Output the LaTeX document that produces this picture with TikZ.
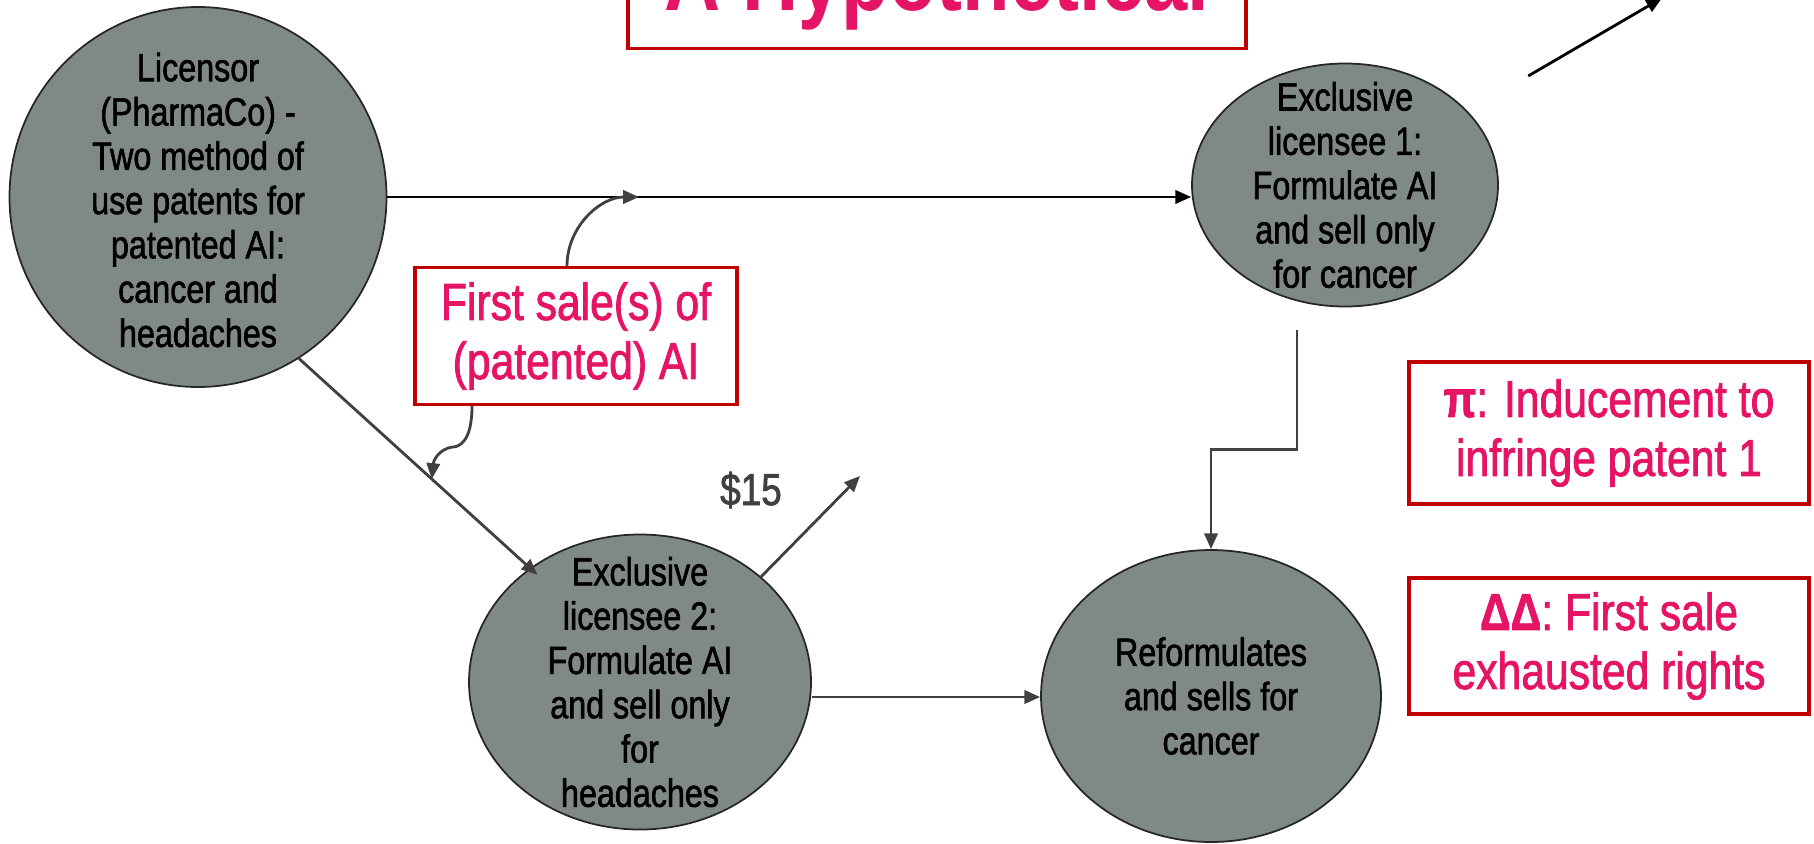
\documentclass[tikz,border=0pt]{standalone}
\usepackage{fontspec}
\setmainfont{Liberation Sans}[FakeStretch=0.82]
\newfontfamily\heavyfont{Liberation Sans}[FakeStretch=0.82, FakeBold=1.5]
\usepackage{tikz}
\usetikzlibrary{shapes, arrows.meta, calc, positioning}
\definecolor{slate}{HTML}{7F8A88}
\definecolor{boxred}{HTML}{C00000}
\definecolor{notepink}{HTML}{E61464}
\definecolor{darkgrey}{HTML}{404040}

\begin{document}
\begin{tikzpicture}[>={Triangle[length=4.5pt,width=3.8pt]}]
	\tikzstyle{party}=[ellipse, draw=black!85, line width=0.5pt, fill=slate, inner sep=0pt]
	\tikzstyle{partytext}=[align=center, font=\heavyfont\fontsize{11.2}{12.6}\selectfont]
	\tikzstyle{note}=[rectangle, draw=boxred, line width=0.9pt, fill=white, text=notepink, align=center, font=\heavyfont\fontsize{14.8}{16.8}\selectfont]
	\tikzstyle{link}=[->, line width=0.8pt, draw=darkgrey]

	\useasboundingbox (0,0) rectangle (18.14,-8.43);
	\clip (0,0) rectangle (18.14,-8.43);

	% Title
	\node at (9.37,-0.50) [note, anchor=south, minimum width=6.18cm, inner ysep=0.38cm, text depth=0pt, font=\fontsize{27}{30}\selectfont\bfseries] (title) {A Hypothetical};

	% Parties
	\node at (1.98,-1.97) [party, minimum width=3.77cm, minimum height=3.80cm] (licensor) {};
	\node at (1.98,-2.00) [partytext] (licensor_txt) {Licensor\\(PharmaCo) -\\Two method of\\use patents for\\patented AI:\\cancer and\\headaches};
	\node at (13.45,-1.85) [party, minimum width=3.06cm, minimum height=2.43cm] (lic1) {};
	\node at (lic1) [partytext] (lic1_txt) {Exclusive\\licensee 1:\\Formulate AI\\and sell only\\for cancer};
	\node at (6.40,-6.82) [party, minimum width=3.42cm, minimum height=2.95cm] (lic2) {};
	\node at (lic2) [partytext] (lic2_txt) {Exclusive\\licensee 2:\\Formulate AI\\and sell only\\for\\headaches};
	\node at (12.11,-6.96) [party, minimum width=3.40cm, minimum height=2.92cm] (reform) {};
	\node at (reform) [partytext] (reform_txt) {Reformulates\\and sells for\\cancer};

	% Licensor -> licensees
	\draw [link, draw=black] (licensor.east) -- coordinate[pos=0.313] (sale1) (licensor.east -| lic1.west);
	\draw [link, shorten >=-0.1cm] (licensor.-58) -- coordinate[pos=0.575] (sale2) (lic2.134);

	% Licensees -> reformulator
	\draw [link] ([xshift=-0.48cm, yshift=-0.23cm]lic1.south) -- ++(0,-1.19) -| (reform.north);
	\draw [link] ([yshift=-0.15cm]lic2.east) -- ([yshift=-0.15cm]lic2.east -| reform.west);

	% Money and resale
	\coordinate (pay) at (8.60,-4.76);
	\draw [link] (lic2.41) -- (pay);
	\node at (7.51,-4.90) [text=darkgrey, font=\heavyfont\fontsize{12.8}{14}\selectfont] (price) {\$15};
	\coordinate (resale) at (16.62,0.02);
	\draw [link, draw=black, shorten <=0.7cm] (lic1.31) -- (resale);

	% Notes
	\node at (5.76,-3.36) [note, minimum width=3.22cm, minimum height=1.37cm] (sale) {First sale(s) of\\(patented) AI};
	\draw [link] ([xshift=-0.09cm]sale.north) to [out=90, in=180] (sale1);
	\draw [link] ([xshift=-1.04cm]sale.south) .. controls +(0,-0.36) and +(0.07,0) .. ++(-0.2,-0.41) .. controls +(-0.12,-0.02) and +(0.02,0.2) .. (sale2);
	\node at (16.09,-4.33) [note, minimum width=4.0cm, minimum height=1.42cm] (induce) {\textbf{π}: Inducement to\\infringe patent 1};
	\node at (16.09,-6.46) [note, minimum width=4.0cm, minimum height=1.36cm] (exhaust) {\textbf{ΔΔ}: First sale\\exhausted rights};
\end{tikzpicture}
\end{document}
